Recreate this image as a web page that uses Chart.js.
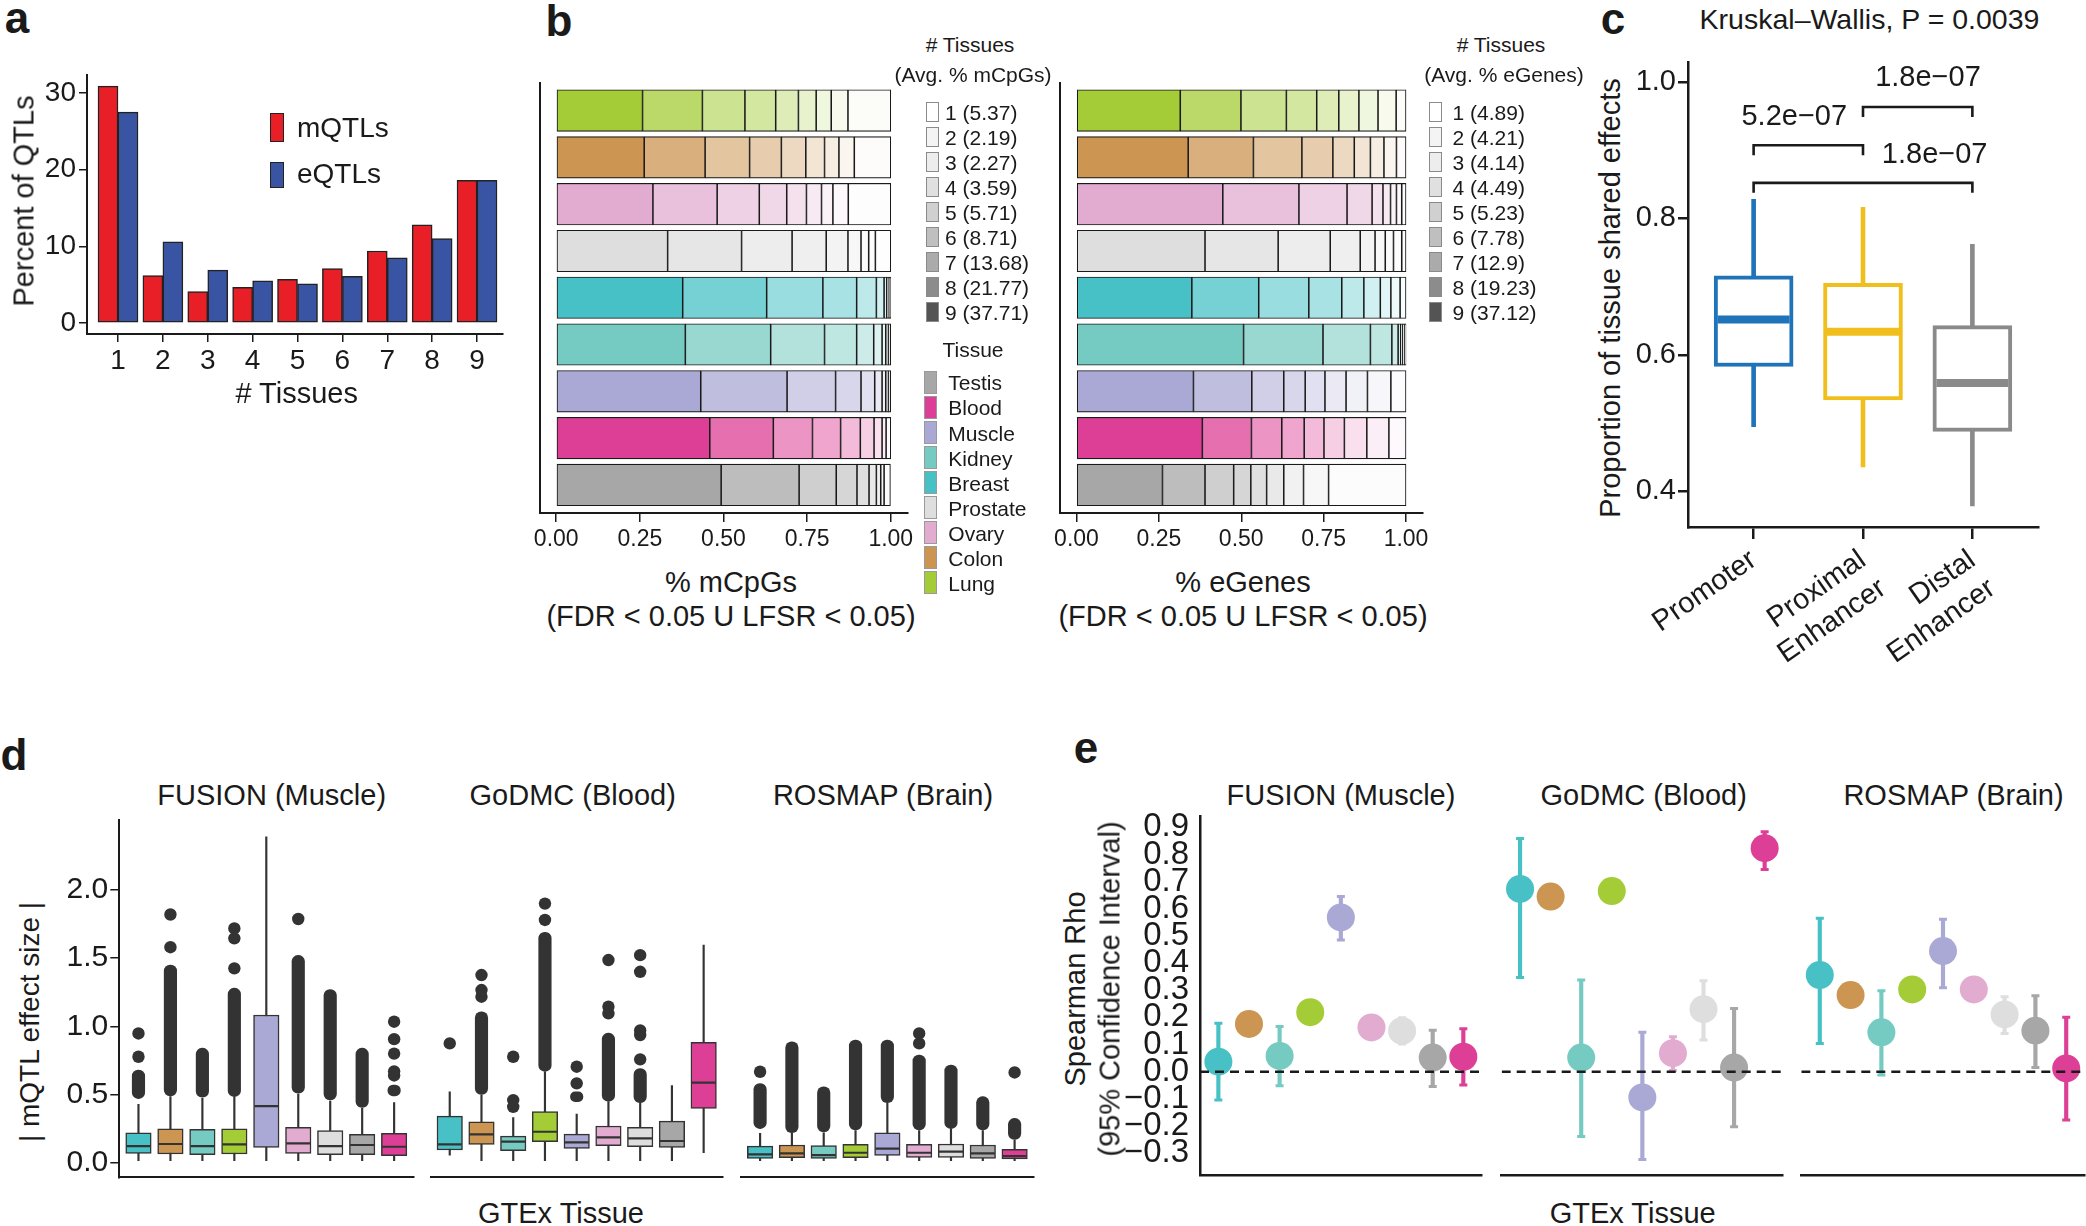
<!DOCTYPE html>
<html>
<head>
<meta charset="utf-8">
<script src="https://cdn.jsdelivr.net/npm/chart.js@4.4.1/dist/chart.umd.min.js"></script>
<style>
  html, body { margin: 0; padding: 0; background: #fff; }
  #fig { position: relative; width: 2086px; height: 1226px; overflow: hidden;
         font-family: "Liberation Sans", Arial, Helvetica, sans-serif; color: #1a1a1a; }
</style>
</head>
<body>
<div id="fig"></div>
<script>
const FONT = '"Liberation Sans", Arial, Helvetica, sans-serif';
const INK = '#1a1a1a';

// ---------- data ----------
// a: percent of QTLs shared by n tissues
const aTissues = [1, 2, 3, 4, 5, 6, 7, 8, 9];
const aMqtl = [30.9, 6.2, 4.1, 4.65, 5.7, 7.1, 9.4, 12.8, 18.6];
const aEqtl = [27.5, 10.6, 6.9, 5.5, 5.1, 6.1, 8.5, 11.0, 18.6];
const aYTicks = [0, 10, 20, 30];

// b: fraction of mCpGs / eGenes shared by 9, 8, ... 1 tissues (left to right)
const bRows = ['Lung', 'Colon', 'Ovary', 'Prostate', 'Breast', 'Kidney', 'Muscle', 'Blood', 'Testis'];
const bMcpg = [
  [0.258, 0.179, 0.127, 0.092, 0.068, 0.053, 0.045, 0.050, 0.128],
  [0.263, 0.182, 0.133, 0.095, 0.073, 0.056, 0.043, 0.046, 0.109],
  [0.289, 0.192, 0.126, 0.082, 0.059, 0.045, 0.034, 0.046, 0.127],
  [0.333, 0.221, 0.151, 0.102, 0.065, 0.039, 0.023, 0.020, 0.046],
  [0.378, 0.251, 0.168, 0.101, 0.059, 0.023, 0.008, 0.007, 0.005],
  [0.386, 0.255, 0.161, 0.096, 0.051, 0.025, 0.011, 0.008, 0.007],
  [0.432, 0.258, 0.145, 0.076, 0.041, 0.022, 0.011, 0.008, 0.007],
  [0.459, 0.190, 0.117, 0.084, 0.059, 0.041, 0.024, 0.012, 0.014],
  [0.493, 0.233, 0.111, 0.062, 0.036, 0.022, 0.013, 0.010, 0.019]
];
const bEgene = [
  [0.315, 0.184, 0.138, 0.092, 0.067, 0.061, 0.058, 0.055, 0.030],
  [0.339, 0.198, 0.147, 0.094, 0.065, 0.049, 0.041, 0.038, 0.029],
  [0.444, 0.231, 0.146, 0.076, 0.033, 0.023, 0.018, 0.016, 0.013],
  [0.390, 0.222, 0.158, 0.091, 0.045, 0.031, 0.025, 0.025, 0.013],
  [0.350, 0.203, 0.152, 0.100, 0.067, 0.050, 0.032, 0.028, 0.018],
  [0.507, 0.241, 0.144, 0.065, 0.019, 0.008, 0.005, 0.006, 0.005],
  [0.355, 0.177, 0.097, 0.065, 0.060, 0.064, 0.065, 0.071, 0.046],
  [0.382, 0.149, 0.092, 0.068, 0.060, 0.062, 0.068, 0.067, 0.052],
  [0.261, 0.129, 0.087, 0.052, 0.048, 0.052, 0.060, 0.076, 0.235]
];
const bMcpgAvg = ['5.37', '2.19', '2.27', '3.59', '5.71', '8.71', '13.68', '21.77', '37.71'];
const bEgeneAvg = ['4.89', '4.21', '4.14', '4.49', '5.23', '7.78', '12.9', '19.23', '37.12'];
const bXTicks = [0, 0.25, 0.5, 0.75, 1];
const bLegendTissues = ['Testis', 'Blood', 'Muscle', 'Kidney', 'Breast', 'Prostate', 'Ovary', 'Colon', 'Lung'];

// c: [lower whisker, Q1, median, Q3, upper whisker]
const cRegions = [['Promoter'], ['Proximal', 'Enhancer'], ['Distal', 'Enhancer']];
const cStats = [
  [0.495, 0.583, 0.652, 0.716, 0.828],
  [0.436, 0.534, 0.634, 0.705, 0.816],
  [0.379, 0.488, 0.559, 0.643, 0.762]
];
const cYTicks = [0.4, 0.6, 0.8, 1.0];
const cBrackets = [[1, 2, 0.907], [2, 3, 0.963], [1, 3, 0.852]];
const cPvals = ['5.2e\u221207', '1.8e\u221207', '1.8e\u221207'];

// d: |mQTL effect size| boxplots per cohort, [lower whisker, Q1, median, Q3, upper whisker]
const dTissues = ['Breast', 'Colon', 'Kidney', 'Lung', 'Muscle', 'Ovary', 'Prostate', 'Testis', 'Blood'];
const dCohorts = ['FUSION (Muscle)', 'GoDMC (Blood)', 'ROSMAP (Brain)'];
const dFusion = [
  [0.015, 0.068, 0.122, 0.220, 0.428], [0.015, 0.064, 0.137, 0.249, 0.484],
  [0.015, 0.059, 0.122, 0.244, 0.472], [0.015, 0.064, 0.134, 0.249, 0.479],
  [0.015, 0.112, 0.415, 1.083, 2.390], [0.015, 0.068, 0.142, 0.259, 0.503],
  [0.015, 0.059, 0.122, 0.235, 0.452], [0.015, 0.059, 0.130, 0.208, 0.398],
  [0.015, 0.051, 0.117, 0.215, 0.440]
];
const dGodmc = [
  [0.056, 0.093, 0.134, 0.342, 0.520], [0.015, 0.134, 0.208, 0.300, 0.496],
  [0.015, 0.088, 0.154, 0.195, 0.330], [0.015, 0.154, 0.227, 0.374, 0.667],
  [0.015, 0.105, 0.149, 0.210, 0.357], [0.015, 0.125, 0.186, 0.269, 0.447],
  [0.015, 0.117, 0.178, 0.259, 0.435], [0.015, 0.112, 0.159, 0.305, 0.565],
  [0.073, 0.398, 0.587, 0.882, 1.596]
];
const dRosmap = [
  [0.015, 0.032, 0.061, 0.122, 0.215], [0.015, 0.037, 0.068, 0.130, 0.215],
  [0.015, 0.032, 0.056, 0.125, 0.220], [0.015, 0.037, 0.073, 0.134, 0.235],
  [0.015, 0.054, 0.103, 0.220, 0.435], [0.015, 0.039, 0.073, 0.134, 0.235],
  [0.015, 0.039, 0.081, 0.137, 0.244], [0.015, 0.032, 0.068, 0.130, 0.235],
  [0.015, 0.027, 0.049, 0.098, 0.166]
];
// dense runs of outliers: [tissue index, from, to]
const dFusionRuns = [[0, 0.47, 0.68], [1, 0.49, 1.45], [2, 0.48, 0.84], [3, 0.485, 1.28],
  [5, 0.51, 1.52], [6, 0.46, 1.27], [7, 0.405, 0.84], [8, 0.49, 0.57]];
const dGodmcRuns = [[1, 0.50, 1.107], [3, 0.67, 1.69], [4, 0.447, 0.52], [5, 0.45, 0.95],
  [6, 0.44, 0.69]];
const dRosmapRuns = [[0, 0.25, 0.58], [1, 0.22, 0.887], [2, 0.225, 0.557], [3, 0.24, 0.90],
  [4, 0.44, 0.90], [5, 0.24, 0.79], [6, 0.25, 0.716], [7, 0.24, 0.484], [8, 0.17, 0.325]];
// single outliers: [tissue index, value]
const dFusionPts = [[0, 0.777], [0, 0.948], [1, 1.58], [1, 1.82], [3, 1.425], [3, 1.645], [3, 1.718],
  [5, 1.787], [8, 0.64], [8, 0.67], [8, 0.80], [8, 0.906], [8, 1.034]];
const dGodmcPts = [[0, 0.875], [1, 1.217], [1, 1.266], [1, 1.376], [2, 0.41], [2, 0.459], [2, 0.777],
  [3, 1.78], [3, 1.90], [4, 0.582], [4, 0.704], [5, 1.095], [5, 1.144], [5, 1.486],
  [6, 0.758], [6, 0.936], [6, 0.97], [6, 1.40], [6, 1.522]];
const dRosmapPts = [[0, 0.667], [5, 0.875], [5, 0.948], [8, 0.662]];
const dYTicks = [0, 0.5, 1.0, 1.5, 2.0];

// e: Spearman rho with 95% CI (null = interval hidden behind the point)
const eTissues = dTissues;
const eFusionRho = [0.037, 0.176, 0.058, 0.219, 0.568, 0.163, 0.150, 0.052, 0.055];
const eFusionLo = [-0.104, null, -0.052, null, 0.485, null, 0.102, -0.055, -0.049];
const eFusionHi = [0.178, null, 0.166, null, 0.645, null, 0.199, 0.153, 0.158];
const eGodmcRho = [0.673, 0.645, 0.052, 0.665, -0.095, 0.068, 0.230, 0.015, 0.823];
const eGodmcLo = [0.347, null, -0.239, null, -0.323, 0.004, 0.117, -0.203, 0.745];
const eGodmcHi = [0.859, null, 0.338, null, 0.145, 0.129, 0.335, 0.233, 0.884];
const eRosmapRho = [0.356, 0.282, 0.145, 0.303, 0.444, 0.303, 0.211, 0.151, 0.012];
const eRosmapLo = [0.104, null, -0.012, null, 0.309, null, 0.141, 0.015, -0.178];
const eRosmapHi = [0.565, null, 0.298, null, 0.561, null, 0.276, 0.280, 0.200];
const eYTicks = [-0.3, -0.2, -0.1, 0, 0.1, 0.2, 0.3, 0.4, 0.5, 0.6, 0.7, 0.8, 0.9];

// ---------- styles ----------
const tissueColor = {
  Breast: '#47c1c6', Colon: '#cc9552', Kidney: '#75cbc1', Lung: '#a3cc37', Muscle: '#aaa8d4',
  Ovary: '#e2acd0', Prostate: '#dedede', Testis: '#a7a7a7', Blood: '#dd3f96'
};
const bShade = [1, 0.75, 0.55, 0.47, 0.36, 0.25, 0.16, 0.09, 0.03];
const bLevelGreys = ['#ffffff', '#f4f4f4', '#ededed', '#e0e0e0', '#d0d0d0', '#bfbfbf', '#ababab', '#8c8c8c', '#545454'];
const cColors = ['#1f73b9', '#f0bf1d', '#8a8a8a'];

const fig = document.getElementById('fig');

function mix(hex, a) {
  const n = parseInt(hex.slice(1), 16);
  const ch = [(n >> 16) & 255, (n >> 8) & 255, n & 255].map(c => Math.round(255 - a * (255 - c)));
  return `rgb(${ch.join(',')})`;
}

function label(str, x, y, size, opt = {}) {
  const d = document.createElement('div');
  d.textContent = str;
  const s = d.style;
  s.position = 'absolute'; s.left = x + 'px'; s.top = y + 'px';
  s.fontSize = size + 'px'; s.lineHeight = '1'; s.whiteSpace = 'pre'; s.color = INK;
  if (opt.bold) s.fontWeight = 'bold';
  const ax = opt.left ? '0' : '-50%';
  s.transform = `translate(${ax},-50%)` + (opt.rotate ? ` rotate(${opt.rotate}deg)` : '');
  fig.appendChild(d);
}

function swatch(x, y, w, h, fill, border, bw) {
  const d = document.createElement('div');
  d.style.cssText = `position:absolute;left:${x}px;top:${y}px;width:${w}px;height:${h}px;` +
    `background:${fill};border:${bw}px solid ${border};box-sizing:border-box;`;
  fig.appendChild(d);
}

// canvas placed so that the chart area lands on `area` (page pixels)
function frame(area, m) {
  const left = Math.floor(area.l - m.l), top = Math.floor(area.t - m.t);
  const right = Math.ceil(area.r + m.r), bottom = Math.ceil(area.b + m.b);
  const c = document.createElement('canvas');
  c.width = right - left; c.height = bottom - top;
  c.style.cssText = `position:absolute;left:${left}px;top:${top}px;width:${right - left}px;height:${bottom - top}px;`;
  fig.appendChild(c);
  return { c, l: area.l - left, t: area.t - top, r: right - area.r, b: bottom - area.b };
}

const fitter = (size, vertical) => s => {
  if (vertical) s.width = size; else s.height = size;
  s.paddingLeft = s.paddingRight = s.paddingTop = s.paddingBottom = 0;
};

function axis(o) {
  const s = {
    type: 'linear', min: o.min, max: o.max, offset: false, reverse: !!o.reverse,
    ticks: {
      display: !!o.labels, autoSkip: false, color: INK, padding: o.pad ?? 3,
      font: { family: FONT, size: o.size || 28 }, callback: o.fmt || (v => v),
      minRotation: o.rot || 0, maxRotation: o.rot || 0
    },
    grid: {
      display: !!o.tickLen, offset: false, drawOnChartArea: false, drawTicks: !!o.tickLen,
      tickLength: o.tickLen || 0, color: INK, lineWidth: o.tickW || 1.5
    },
    border: { display: true, color: INK, width: o.line || 2 }
  };
  if (o.ticks) s.afterBuildTicks = sc => { sc.ticks = o.ticks.map(v => ({ value: v })); };
  if (o.stacked) s.stacked = true;
  if (o.hidden) s.display = false;
  return s;
}

function options(f, showY, x, y, extra = {}) {
  x.afterFit = fitter(f.b, false);
  if (showY) y.afterFit = fitter(f.l, true);
  return Object.assign({
    responsive: false, animation: false, events: [],
    layout: { autoPadding: false, padding: { left: showY ? 0 : f.l, top: f.t, right: f.r, bottom: 0 } },
    plugins: { legend: { display: false }, tooltip: { enabled: false } },
    scales: { x, y }
  }, extra);
}

// ---------- panel a ----------
{
  const f = frame({ l: 87, t: 75, r: 503, b: 334 }, { l: 87, t: 5, r: 10, b: 45 });
  const bar = (vals, color) => ({
    data: aTissues.map((t, i) => ({ x: t, y: vals[i] })), backgroundColor: color,
    borderColor: '#222', borderWidth: 1.5, borderSkipped: false, barThickness: 20
  });
  new Chart(f.c, {
    type: 'bar',
    data: { datasets: [bar(aMqtl, '#e81f27'), bar(aEqtl, '#3a54a4')] },
    options: options(f, true,
      axis({ min: 0.309, max: 9.579, ticks: aTissues, labels: true, size: 28, tickLen: 8, pad: 2 }),
      axis({ min: -1.43, max: 32.35, ticks: aYTicks, labels: true, size: 28, tickLen: 8, pad: 3 }))
  });
}

// ---------- panel b ----------
function bChart(area, fracs) {
  const f = frame(area, { l: 12, t: 5, r: 14, b: 50 });
  const datasets = bShade.map((a, j) => ({
    data: bRows.map((r, i) => ({ x: fracs[i][j], y: i + 1 })),
    backgroundColor: bRows.map(r => mix(tissueColor[r], a)),
    borderColor: INK, borderWidth: 1.1, borderSkipped: false, barThickness: 41.5
  }));
  new Chart(f.c, {
    type: 'bar',
    data: { datasets },
    options: options(f, true,
      axis({ min: -0.05, max: 1.05, ticks: bXTicks, labels: true, fmt: v => v.toFixed(2), size: 23, tickLen: 9, pad: 4, stacked: true }),
      axis({ min: 0.4, max: 9.6, reverse: true, stacked: true }),
      { indexAxis: 'y' })
  });
}
bChart({ l: 539.5, t: 82.5, r: 907.5, b: 513 }, bMcpg);
bChart({ l: 1060, t: 82.5, r: 1422.5, b: 513 }, bEgene);

// ---------- panel c ----------
{
  const f = frame({ l: 1688, t: 62, r: 2038, b: 527 }, { l: 60, t: 5, r: 10, b: 165 });
  const pvalPos = [[1.372, 0.949], [2.594, 1.005], [2.655, 0.893]];
  const tip = 0.0146;
  const bracketPts = [];
  cBrackets.forEach(([a, b, h]) => {
    bracketPts.push({ x: a, y: h - tip }, { x: a, y: h }, { x: b, y: h }, { x: b, y: h - tip }, { x: b, y: null });
  });
  const pvalText = {
    id: 'pvalText',
    afterDatasetsDraw(chart) {
      const { ctx, scales: { x, y } } = chart;
      ctx.save();
      ctx.font = `29px ${FONT}`; ctx.fillStyle = INK; ctx.textAlign = 'center'; ctx.textBaseline = 'middle';
      cPvals.forEach((p, i) => ctx.fillText(p, x.getPixelForValue(pvalPos[i][0]), y.getPixelForValue(pvalPos[i][1])));
      ctx.restore();
    }
  };
  new Chart(f.c, {
    type: 'bar',
    data: { datasets: [
      { data: cStats.map((s, i) => ({ x: i + 1, y: [s[0], s[4]] })), backgroundColor: cColors,
        barThickness: 4, grouped: false, order: 3 },
      { data: cStats.map((s, i) => ({ x: i + 1, y: [s[1], s[3]] })), backgroundColor: '#fff',
        borderColor: cColors, borderWidth: 4, borderSkipped: false, barThickness: 79, grouped: false, order: 2 },
      { type: 'scatter', data: cStats.map((s, i) => ({ x: i + 1, y: s[2] })), pointStyle: 'line',
        pointRadius: 36, pointBorderWidth: 8, pointBorderColor: cColors, order: 1 },
      { type: 'line', data: bracketPts, borderColor: INK, borderWidth: 2.6, pointRadius: 0,
        fill: false, spanGaps: false, order: 0 }
    ] },
    options: options(f, true,
      axis({ min: 0.4, max: 3.6, ticks: [1, 2, 3], labels: true, fmt: v => cRegions[Math.round(v) - 1],
        size: 29, rot: 35, tickLen: 12, tickW: 2.5, pad: 4, line: 2.5 }),
      axis({ min: 0.348, max: 1.029, ticks: cYTicks, labels: true, fmt: v => v.toFixed(1),
        size: 29, tickLen: 10, tickW: 2.5, pad: 2, line: 2.5 })),
    plugins: [pvalText]
  });
}

// ---------- panel d ----------
const dStats = [dFusion, dGodmc, dRosmap];
const dRuns = [dFusionRuns, dGodmcRuns, dRosmapRuns];
const dPts = [dFusionPts, dGodmcPts, dRosmapPts];
const dAreas = [
  { l: 119.3, t: 820, r: 413.3, b: 1177.3 },
  { l: 430.7, t: 820, r: 722.7, b: 1177.3 },
  { l: 741, t: 820, r: 1033.7, b: 1177.3 }
];
dAreas.forEach((area, k) => {
  const showY = k === 0;
  const f = frame(area, { l: showY ? 70 : 3, t: 5, r: 3, b: 5 });
  const stats = dStats[k];
  new Chart(f.c, {
    type: 'bar',
    data: { datasets: [
      { data: stats.map((s, i) => ({ x: i + 1, y: [s[0], s[4]] })), backgroundColor: '#333',
        barThickness: 1.5, grouped: false, order: 4 },
      { data: stats.map((s, i) => ({ x: i + 1, y: [s[1], s[3]] })),
        backgroundColor: dTissues.map(t => tissueColor[t]), borderColor: '#333', borderWidth: 1.5,
        borderSkipped: false, barThickness: 25.5, grouped: false, order: 3 },
      { type: 'scatter', data: stats.map((s, i) => ({ x: i + 1, y: s[2] })), pointStyle: 'line',
        pointRadius: 12, pointBorderWidth: 2.2, pointBorderColor: '#333', order: 2 },
      { data: dRuns[k].map(r => ({ x: r[0] + 1, y: [r[1], r[2]] })), backgroundColor: '#333',
        barThickness: 12.5, borderRadius: 6.25, borderSkipped: false, grouped: false, order: 1 },
      { type: 'scatter', data: dPts[k].map(p => ({ x: p[0] + 1, y: p[1] })), pointRadius: 6.2,
        pointBackgroundColor: '#333', pointBorderWidth: 0, order: 0 }
    ] },
    options: options(f, showY,
      axis({ min: 0.4, max: 9.6, line: 2 }),
      axis({ min: -0.107, max: 2.513, ticks: dYTicks, labels: true, fmt: v => v.toFixed(1), size: 30,
        tickLen: 9, pad: 2, line: 2, hidden: !showY }))
  });
});

// ---------- panel e ----------
const eRho = [eFusionRho, eGodmcRho, eRosmapRho];
const eLo = [eFusionLo, eGodmcLo, eRosmapLo];
const eHi = [eFusionHi, eGodmcHi, eRosmapHi];
const eAreas = [
  { l: 1200, t: 816.7, r: 1481.7, b: 1175 },
  { l: 1501.7, t: 816.7, r: 1783, b: 1175 },
  { l: 1801.3, t: 816.7, r: 2084.7, b: 1175 }
];
const eXRange = [0.4, 9.6];
eAreas.forEach((area, k) => {
  const showY = k === 0;
  const f = frame(area, { l: showY ? 90 : 3, t: 5, r: k === 2 ? 1 : 3, b: 5 });
  const cols = eTissues.map(t => tissueColor[t]);
  const ci = eRho[k].map((r, i) => i).filter(i => eLo[k][i] !== null);
  new Chart(f.c, {
    type: 'bar',
    data: { datasets: [
      { data: ci.map(i => ({ x: i + 1, y: [eLo[k][i], eHi[k][i]] })), backgroundColor: ci.map(i => cols[i]),
        barThickness: 3.5, grouped: false, order: 4 },
      { type: 'scatter', data: ci.flatMap(i => [{ x: i + 1, y: eLo[k][i] }, { x: i + 1, y: eHi[k][i] }]),
        pointStyle: 'line', pointRadius: 4, pointBorderWidth: 3, pointBorderColor: ci.flatMap(i => [cols[i], cols[i]]), order: 3 },
      { type: 'scatter', data: eRho[k].map((r, i) => ({ x: i + 1, y: r })), pointRadius: 14,
        pointBackgroundColor: cols, pointBorderWidth: 0, order: 2 },
      { type: 'line', data: eXRange.map(x => ({ x, y: 0 })), borderColor: INK, borderWidth: 2.5,
        borderDash: [9, 6], pointRadius: 0, fill: false, order: 0 }
    ] },
    options: options(f, showY,
      axis({ min: eXRange[0], max: eXRange[1], line: 2.5 }),
      axis({ min: -0.3805, max: 0.939, ticks: eYTicks, labels: true,
        fmt: v => (v < -1e-9 ? '\u2212' : '') + Math.abs(v).toFixed(1), size: 33, pad: 11, line: 2.5, hidden: !showY }))
  });
});

// ---------- text & legends ----------
label('a', 17, 18, 44, { bold: true });
label('b', 559, 20.5, 44, { bold: true });
label('c', 1613, 19, 44, { bold: true });
label('d', 14, 755, 44, { bold: true });
label('e', 1086, 748, 44, { bold: true });

// a
label('Percent of QTLs', 24, 200.7, 29, { rotate: -90 });
label('# Tissues', 296.7, 393, 29);
swatch(270, 113.3, 14.3, 28.4, '#e81f27', '#222', 1.5);
swatch(270, 162.3, 14.3, 25.4, '#3a54a4', '#222', 1.5);
label('mQTLs', 297, 128, 28, { left: true });
label('eQTLs', 297, 174, 28, { left: true });

// b
function bLegend(cx, boxX, textX, title, avgs) {
  label('# Tissues', cx, 44, 21);
  label(title, cx + 3, 73.5, 21);
  avgs.forEach((a, i) => {
    const y = 112.2 + 25 * i;
    swatch(boxX, y - 10, 13.6, 20, bLevelGreys[i], '#8a8a8a', 1);
    label(`${i + 1} (${a})`, textX, y, 21, { left: true });
  });
}
bLegend(970, 925.5, 945, '(Avg. % mCpGs)', bMcpgAvg);
bLegend(1501, 1428.6, 1452.5, '(Avg. % eGenes)', bEgeneAvg);
label('Tissue', 973, 349, 21);
bLegendTissues.forEach((t, i) => {
  const y = 382.4 + 25.06 * i;
  swatch(923.7, y - 11.5, 13.7, 23, tissueColor[t], '#9a9a9a', 1);
  label(t, 948.3, y, 21, { left: true });
});
label('% mCpGs', 731, 582, 29);
label('(FDR < 0.05 U LFSR < 0.05)', 731, 616, 29);
label('% eGenes', 1243, 582, 29);
label('(FDR < 0.05 U LFSR < 0.05)', 1243, 616, 29);

// c
label('Kruskal\u2013Wallis, P = 0.0039', 1869.5, 19, 28.5);
label('Proportion of tissue shared effects', 1610, 298.3, 29, { rotate: -90 });

// d
[271.7, 572.7, 883].forEach((x, k) => label(dCohorts[k], x, 795, 29));
label('GTEx Tissue', 561, 1213, 29);
label('| mQTL effect size |', 30, 1022, 28, { rotate: -90 });

// e
[1341, 1643.7, 1953.5].forEach((x, k) => label(dCohorts[k], x, 795, 29));
label('GTEx Tissue', 1632.7, 1213, 29);
label('Spearman Rho', 1075, 989, 29, { rotate: -90 });
label('(95% Confidence Interval)', 1109.5, 989, 29, { rotate: -90 });
</script>
</body>
</html>
